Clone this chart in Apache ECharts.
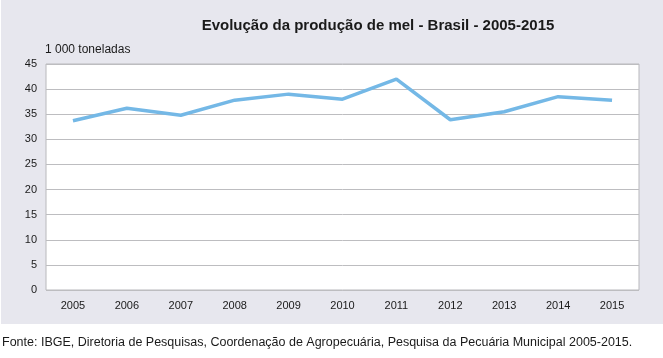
<!DOCTYPE html>
<html><head><meta charset="utf-8">
<script src="https://cdn.jsdelivr.net/npm/echarts@6/dist/echarts.min.js"></script>
<style>html,body{margin:0;padding:0;background:#fff}#c{width:663px;height:358px}</style>
</head><body><div id="c"></div>
<script>
var years = ['2005','2006','2007','2008','2009','2010','2011','2012','2013','2014','2015'];
var production = [33.7, 36.2, 34.8, 37.8, 39.0, 38.0, 42.0, 33.9, 35.5, 38.5, 37.8];
var titleText = 'Evolução da produção de mel - Brasil - 2005-2015';
var unitText = '1 000 toneladas';
var sourceText = 'Fonte: IBGE, Diretoria de Pesquisas, Coordenação de Agropecuária, Pesquisa da Pecuária Municipal 2005-2015.';
var FONT = '"Liberation Sans", Arial, sans-serif';
var chart = echarts.init(document.getElementById('c'), null, {renderer:'canvas'});
chart.setOption({
  animation:false,
  backgroundColor:'#ffffff',
  graphic:[
    {type:'rect', z:-10, shape:{x:1,y:0,width:662,height:324}, style:{fill:'#e7e7ee'}},
    {type:'text', left:2, top:336, style:{text:sourceText, fill:'#1a1a1a', font:'12.5px "Liberation Sans", Arial, sans-serif'}}
  ],
  title:{text:titleText, left:373, top:13, textAlign:'center',
    textStyle:{fontFamily:FONT, fontWeight:'bold', fontSize:15, color:'#1a1a1a'}},
  grid:{left:46, right:24, top:64, bottom:68, show:true, backgroundColor:'#ffffff', borderColor:'#b8b8bc', borderWidth:1},
  xAxis:{type:'category', data:years, boundaryGap:true,
    axisLine:{show:false}, axisTick:{show:false},
    axisLabel:{fontFamily:FONT, fontSize:11, color:'#1a1a1a', margin:10}},
  yAxis:{type:'value', min:0, max:45, interval:5,
    name:unitText, nameLocation:'end', nameGap:8,
    nameTextStyle:{fontFamily:FONT, fontSize:12, color:'#1a1a1a', align:'left', padding:[0,0,0,-1]},
    axisLine:{show:false}, axisTick:{show:false},
    axisLabel:{fontFamily:FONT, fontSize:11, color:'#1a1a1a', margin:9},
    splitLine:{lineStyle:{color:'#bdbdc0', width:1}}},
  series:[{type:'line', data:production, symbol:'none', smooth:false,
    lineStyle:{color:'#74b8e6', width:3.5}}]
});
</script></body></html>
